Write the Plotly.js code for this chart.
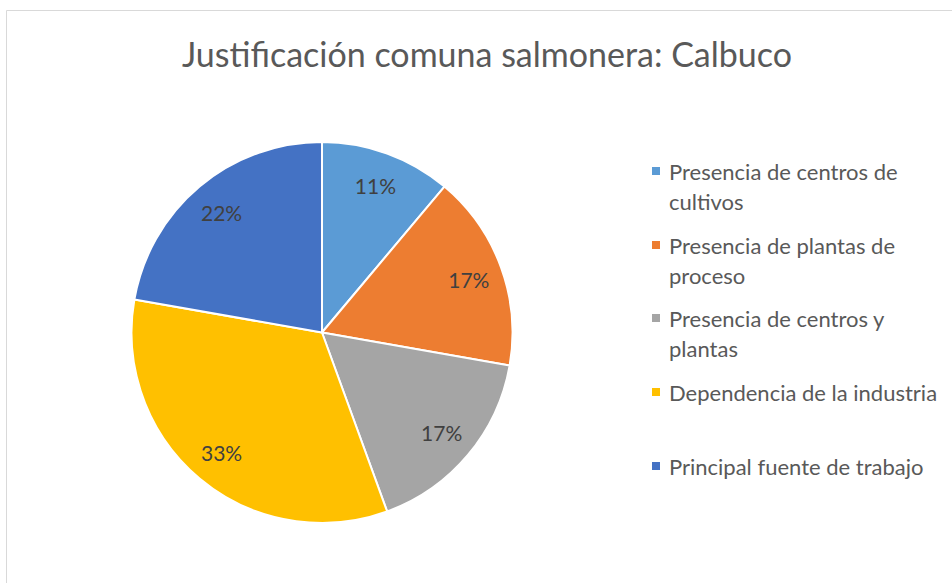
<!DOCTYPE html>
<html>
<head>
<meta charset="utf-8">
<script src="https://cdn.plot.ly/plotly-3.0.1.min.js"></script>
<style>
html,body{margin:0;padding:0;background:#fff;}
#chart{width:952px;height:583px;}
</style>
</head>
<body>
<div id="chart"></div>
<script>
// Data
var categories = [
  "Presencia de centros de cultivos",
  "Presencia de plantas de proceso",
  "Presencia de centros y plantas",
  "Dependencia de la industria",
  "Principal fuente de trabajo"
];
// legend text as wrapped in the reference
var legendLines = [
  ["Presencia de centros de", "cultivos"],
  ["Presencia de plantas de", "proceso"],
  ["Presencia de centros y", "plantas"],
  ["Dependencia de la industria"],
  ["Principal fuente de trabajo"]
];
var counts = [2, 3, 3, 6, 4];
var colors = ["#5B9BD5", "#ED7D31", "#A5A5A5", "#FFC000", "#4472C4"];
var chartTitle = "Justificación comuna salmonera: Calbuco";

var W = 952, H = 583;
var FONT = "Lato, 'Noto Sans', sans-serif";
var pieDomain = {x: [131/W, 513/W], y: [1 - 523/H, 1 - 142/H]};

// full pie: slices and borders
var pie = {
  type: "pie",
  labels: categories,
  values: counts,
  sort: false,
  direction: "clockwise",
  rotation: 0,
  marker: {colors: colors, line: {color: "#ffffff", width: 2}},
  textinfo: "none",
  hoverinfo: "label+percent",
  showlegend: false,
  domain: pieDomain
};
// transparent ring carrying the percentage labels at ~0.82 of the radius
var labelsRing = {
  type: "pie",
  labels: categories,
  values: counts,
  sort: false,
  direction: "clockwise",
  rotation: 0,
  hole: 0.64,
  marker: {colors: categories.map(function(){return "rgba(0,0,0,0)";}), line: {width: 0}},
  textinfo: "percent",
  texttemplate: "%{percent:.0%}",
  textposition: "inside",
  insidetextorientation: "horizontal",
  textfont: {family: FONT, size: 21, color: "#404040"},
  hoverinfo: "skip",
  showlegend: false,
  domain: pieDomain
};

// custom legend (layout)
var entryY = [171, 245, 318, 392, 466];
var lineGap = 30;
var annotations = [], shapes = [];
legendLines.forEach(function(lines, i){
  lines.forEach(function(txt, j){
    annotations.push({xref: "paper", yref: "paper", x: 667/W, y: 1 - (entryY[i] + j*lineGap)/H,
      xanchor: "left", yanchor: "middle", text: txt, showarrow: false,
      font: {family: FONT, size: 22, color: "#595959"}});
  });
  shapes.push({type: "rect", xref: "paper", yref: "paper",
    x0: 652/W, x1: 660/W, y0: 1 - (entryY[i] + 4)/H, y1: 1 - (entryY[i] - 4)/H,
    fillcolor: colors[i], line: {width: 0}});
});
shapes.push({type: "rect", xref: "paper", yref: "paper", x0: 6.5/W, x1: 1.05, y0: -0.05, y1: 1 - 10.5/H,
  line: {color: "#d9d9d9", width: 1}, fillcolor: "rgba(0,0,0,0)", layer: "below"});

var layout = {
  width: W, height: H,
  margin: {l: 0, r: 0, t: 0, b: 0},
  paper_bgcolor: "#ffffff",
  title: {text: chartTitle, x: 487/W, xanchor: "center", y: 1 - 55/H, yanchor: "middle",
          font: {family: FONT, size: 34, color: "#595959"}},
  showlegend: false,
  annotations: annotations,
  shapes: shapes
};
Plotly.newPlot("chart", [pie, labelsRing], layout, {displayModeBar: false, staticPlot: true});
</script>
</body>
</html>
